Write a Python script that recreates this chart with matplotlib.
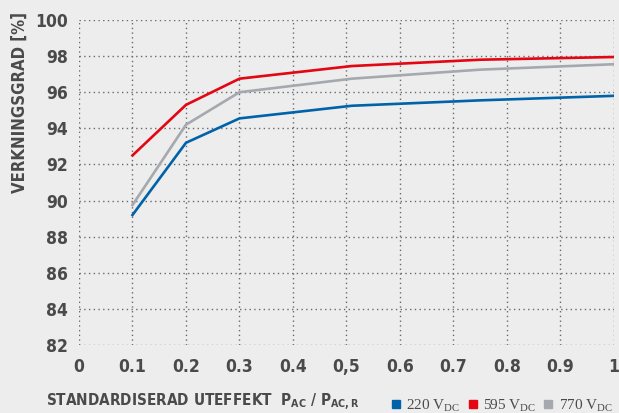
import matplotlib.pyplot as plt
from matplotlib.lines import Line2D

# data
load = [0.1, 0.2, 0.3, 0.51, 0.75, 1.0]
eff_220 = [89.2, 93.2, 94.55, 95.25, 95.55, 95.8]
eff_595 = [92.5, 95.3, 96.75, 97.45, 97.8, 97.95]
eff_770 = [89.75, 94.2, 96.0, 96.75, 97.25, 97.55]

series_names = ['220 V$\\mathregular{_{DC}}$', '595 V$\\mathregular{_{DC}}$', '770 V$\\mathregular{_{DC}}$']
series_colors = ['#0062a9', '#e30613', '#a5a9ae']

x_ticks = [0, 0.1, 0.2, 0.3, 0.4, 0.5, 0.6, 0.7, 0.8, 0.9, 1.0]
x_ticklabels = ['0', '0.1', '0.2', '0.3', '0.4', '0,5', '0.6', '0.7', '0.8', '0.9', '1']
y_ticks = [82, 84, 86, 88, 90, 92, 94, 96, 98, 100]

bg = '#ededed'
txt = '#4a4a4a'
sans = ['DejaVu Sans']
serif = ['Liberation Serif', 'DejaVu Serif']
cond = 'condensed'

fig = plt.figure(figsize=(6.19, 4.13), dpi=100, facecolor=bg)
ax = fig.add_axes([0.1276, 0.1646, 0.8643, 0.787])
ax.set_facecolor(bg)

for vals, col in zip([eff_220, eff_595, eff_770], series_colors):
    ax.plot(load, vals, color=col, lw=1.9, solid_joinstyle='miter', zorder=3)

ax.set_xlim(0, 1)
ax.set_ylim(82, 100)
ax.set_xticks(x_ticks)
ax.set_xticklabels(x_ticklabels)
ax.set_yticks(y_ticks)

for s in ax.spines.values():
    s.set_visible(False)
ax.grid(True, color='#6a6a6a', lw=1.0, ls=(0, (1, 2.4)))
ax.tick_params(length=0, colors=txt)
ax.tick_params(axis='y', pad=8)
ax.tick_params(axis='x', pad=9)
for lab in ax.get_xticklabels() + ax.get_yticklabels():
    lab.set_family(sans)
    lab.set_stretch(cond)
    lab.set_weight('bold')
    lab.set_fontsize(12.5)
    lab.set_color(txt)

fig.text(0.032, 0.753, 'VERKNINGSGRAD [%]', rotation=90, ha='center', va='center',
         family=sans, stretch=cond, weight='bold', fontsize=12, color=txt)
fig.text(0.074, 0.016, 'STANDARDISERAD UTEFFEKT  P$\\mathregular{_{AC}}$ / P$\\mathregular{_{AC,R}}$',
         ha='left', va='baseline', family=sans, stretch=cond, weight='bold', fontsize=11, color=txt)

handles = [Line2D([], [], ls='none', marker='s', ms=5.5, color=c) for c in series_colors]
fig.legend(handles, series_names, loc='lower right', bbox_to_anchor=(0.99, -0.002),
           ncol=3, frameon=False, handlelength=0.6, handletextpad=0.4,
           columnspacing=0.5, borderpad=0, borderaxespad=0,
           prop={'family': serif, 'size': 11}, labelcolor=txt)

fig.savefig('out.png', dpi=100, facecolor=bg)
